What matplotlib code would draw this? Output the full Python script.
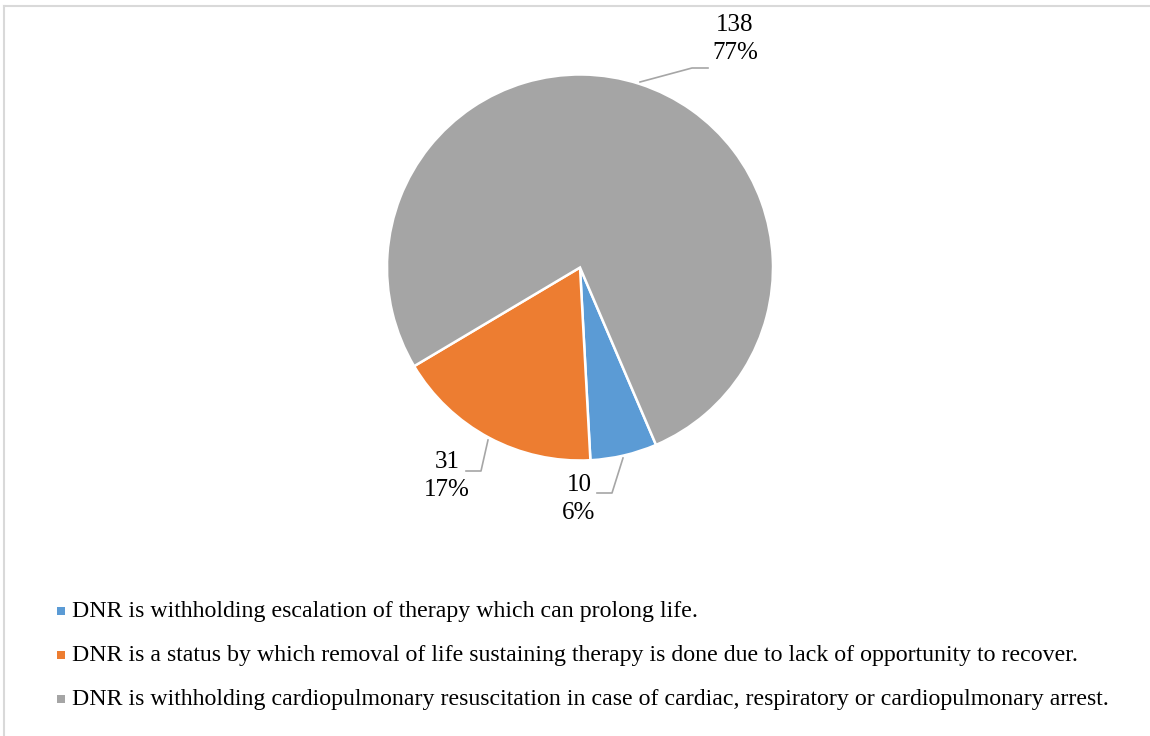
import matplotlib.pyplot as plt
from matplotlib.lines import Line2D

# Survey responses: definition of DNR
categories = [
    "DNR is withholding escalation of therapy which can prolong life.",
    "DNR is a status by which removal of life sustaining therapy is done due to lack of opportunity to recover.",
    "DNR is withholding cardiopulmonary resuscitation in case of cardiac, respiratory or cardiopulmonary arrest.",
]
counts = [10, 31, 138]
colors = ["#5B9BD5", "#ED7D31", "#A5A5A5"]

W, H = 1150, 736
plt.rcParams["font.family"] = ["Liberation Serif", "DejaVu Serif"]

fig = plt.figure(figsize=(W / 100, H / 100), dpi=100)
ax = fig.add_axes([0, 0, 1, 1])

# pixel-like coordinates with y measured from the top
def py(y):
    return H - y

cx, cy, r = 580, py(267.5), 193
wedges, _ = ax.pie(
    counts,
    colors=colors,
    startangle=-66.8,
    counterclock=False,
    center=(cx, cy),
    radius=r,
    wedgeprops=dict(edgecolor="white", linewidth=1.8),
    frame=True,
)

total = sum(counts)
pct = [round(100 * c / total) for c in counts]

# data labels with leader lines
label_pos = [(579, 499), (447, 476), (735, 39)]
leaders = [
    [(623, 458), (612, 493), (597, 493)],
    [(488, 440), (481, 471), (466, 471)],
    [(640, 82), (692, 68), (708, 68)],
]
for (lx, ly), pts, c, p in zip(label_pos, leaders, counts, pct):
    xs = [q[0] for q in pts]
    ys = [py(q[1]) for q in pts]
    ax.add_line(Line2D(xs, ys, color="#A6A6A6", lw=1.2))
    ax.text(lx, py(ly), f"{c}\n{p}%", ha="center", va="center",
            fontsize=18, color="black", linespacing=1.38)

# legend
leg_y = [611, 655, 699]
for name, col, y in zip(categories, colors, leg_y):
    ax.scatter([60.5], [py(y)], marker="s", s=30, color=col, linewidths=0)
    ax.text(72, py(y + 1), name, ha="left", va="center", fontsize=17.2,
            color="black")

# chart frame (top and left edges)
ax.add_line(Line2D([3.5, W], [py(5.5), py(5.5)], color="#D9D9D9", lw=1.5))
ax.add_line(Line2D([3.5, 3.5], [py(5.5), 0], color="#D9D9D9", lw=1.5))

ax.set_xlim(0, W)
ax.set_ylim(0, H)
ax.set_aspect("auto")
ax.axis("off")

fig.savefig("out.png", dpi=100)
